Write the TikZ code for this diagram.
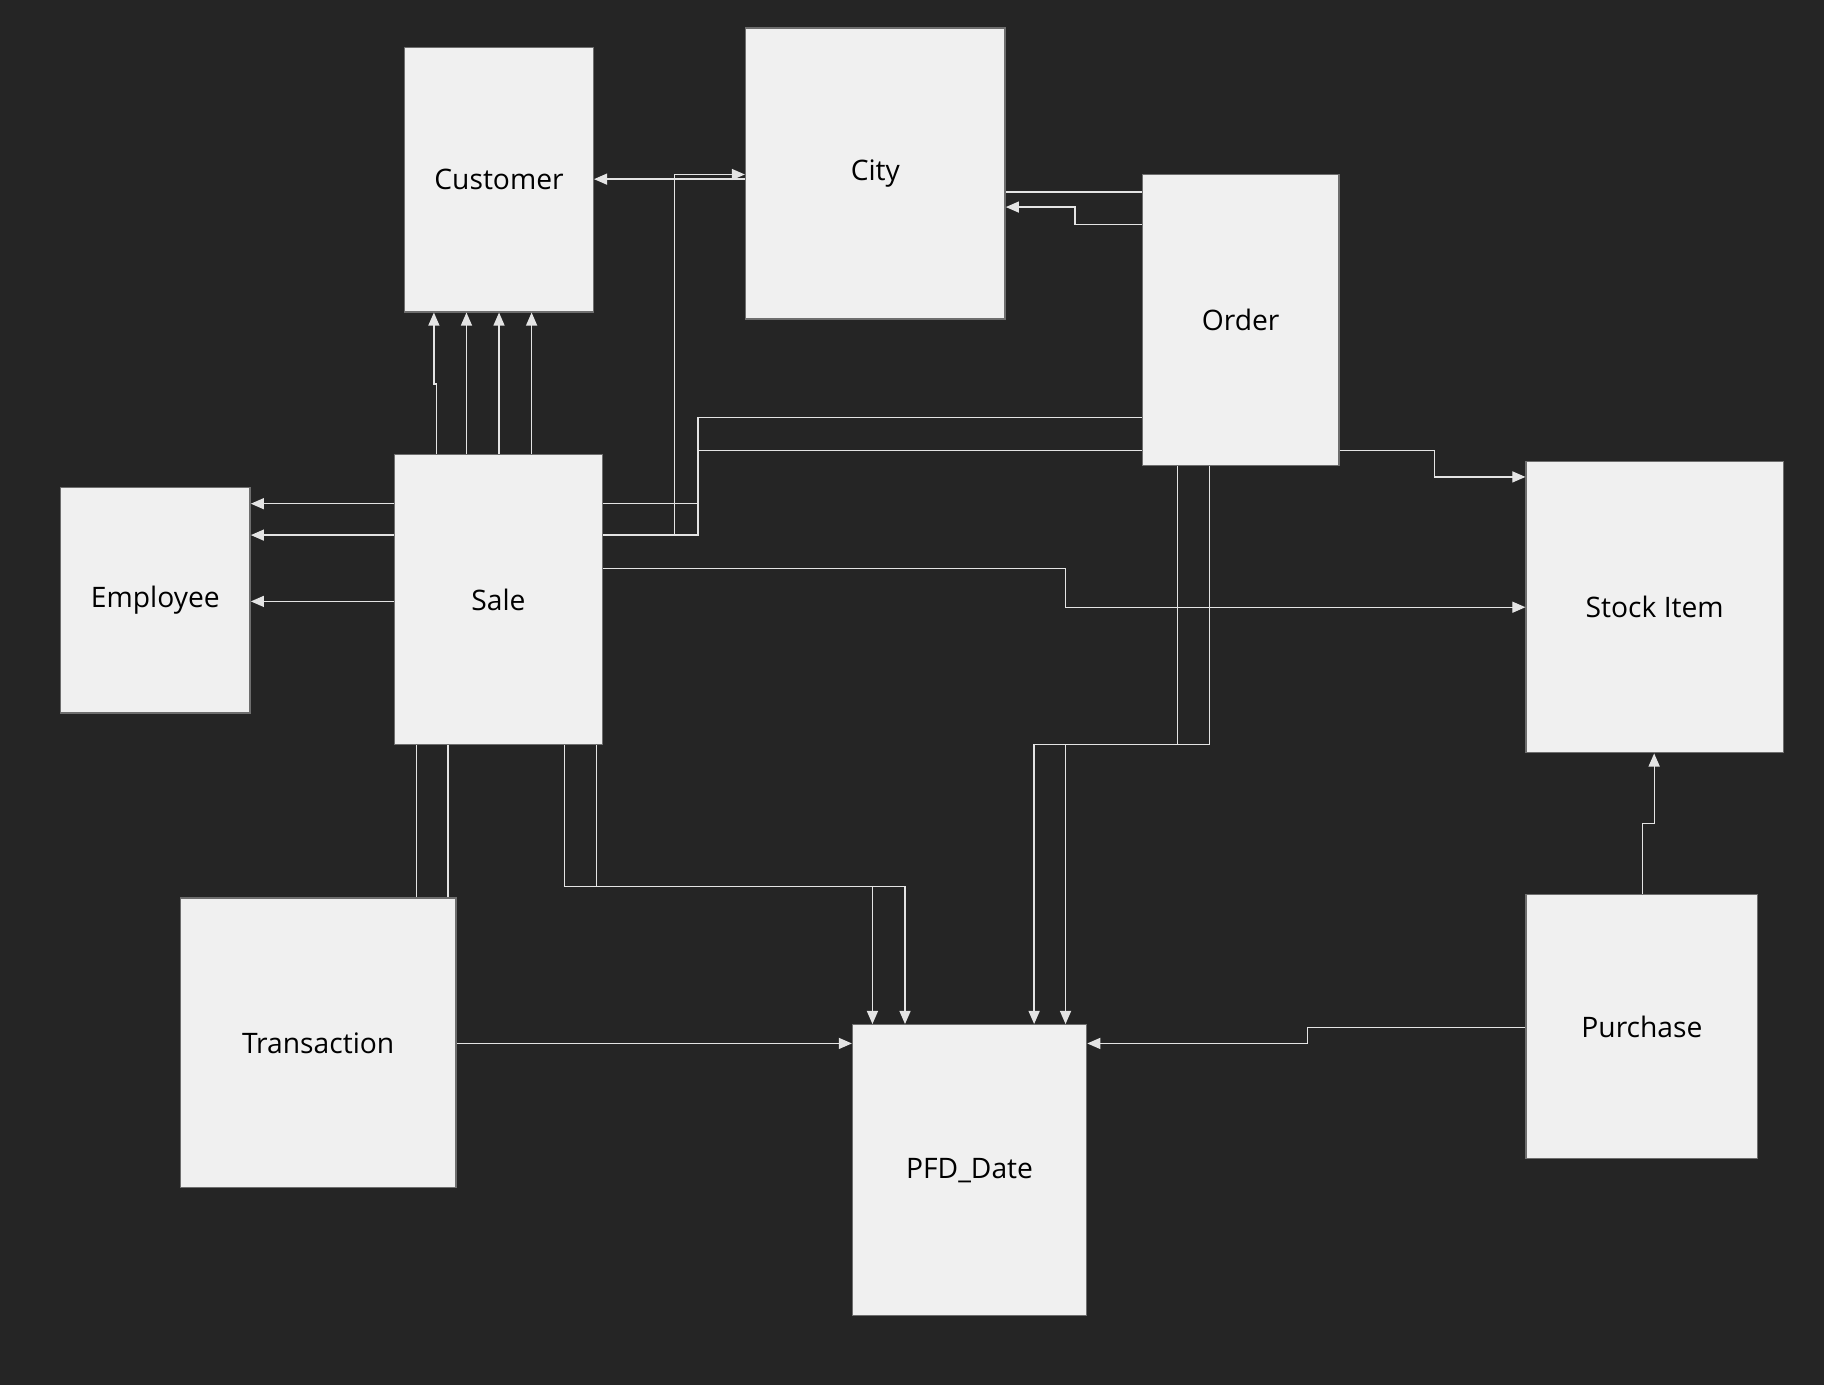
\documentclass[tikz,border=0pt]{standalone}
\usepackage{fontspec}
\setmainfont{Open Sans}
\usepackage{tikz}
\usetikzlibrary{calc}
\usetikzlibrary{arrows.meta}
\definecolor{bg}{HTML}{252525}
\definecolor{boxfill}{HTML}{F0F0F0}
\definecolor{boxline}{HTML}{6E6E6E}
\definecolor{wire}{HTML}{E4E4E4}
\tikzstyle{entity} = [rectangle, draw=boxline, fill=boxfill, line width=0.35pt, inner sep=0pt, font=\fontsize{6.9}{8}\selectfont]
\tikzstyle{link} = [draw=wire, line width=0.32pt]
\tikzstyle{arr} = [link, -{Triangle[length=3.2pt,width=2.7pt]}]

\begin{document}
\begin{tikzpicture}[x=0.01cm, y=-0.01cm]

	\fill[bg] (0,0) rectangle (1568,1191);
	\useasboundingbox (0,0) rectangle (1568,1191);

	\node[entity, minimum width=1.62cm, minimum height=2.27cm] (customer) at (429,154.5) {Customer};
	\node[entity, minimum width=2.23cm, minimum height=2.50cm] (city) at (752.5,149) {City};
	\node[entity, minimum width=1.69cm, minimum height=2.50cm] (order) at (1066.5,275) {Order};
	\node[entity, minimum width=1.63cm, minimum height=1.94cm] (employee) at (133.5,516) {Employee};
	\node[entity, minimum width=1.79cm, minimum height=2.49cm] (sale) at (428.5,515.5) {Sale};
	\node[entity, minimum width=2.21cm, minimum height=2.50cm] (stock) at (1422.5,522) {Stock Item};
	\node[entity, minimum width=2.37cm, minimum height=2.49cm] (transaction) at (273.5,896.5) {Transaction};
	\node[entity, minimum width=2.01cm, minimum height=2.50cm] (pfd) at (833.5,1006) {PFD\_Date};
	\node[entity, minimum width=1.99cm, minimum height=2.27cm] (purchase) at (1411.5,882.5) {Purchase};

	% sale -> customer
	\draw[arr] (sale.north -| 375,0) -- (375,330) -| (customer.south -| 373,0);
	\foreach \x in {401,429,457}
		\draw[arr] (sale.north -| \x,0) -- (customer.south -| \x,0);

	% sale -> employee
	\foreach \y in {433,460,517}
		\draw[arr] (sale.west |- 0,\y) -- (employee.east |- 0,\y);

	\draw[arr] (sale.east |- 0,460) -| (580,150) -- (city.west |- 0,150);
	\draw[arr] (city.west |- 0,154) -- (customer.east |- 0,154);

	\draw[link] (order.west |- 0,359) -| (600,433) -- (sale.east |- 0,433);
	\draw[link] (order.west |- 0,387) -| (600,460) -- (sale.east |- 0,460);

	\draw[link] (order.west |- 0,165) -- (city.east |- 0,165);
	\draw[arr] (order.west |- 0,193) -| (924,178) -- (city.east |- 0,178);

	\draw[arr] (order.east |- 0,387) -| (1233,410) -- (stock.west |- 0,410);
	\draw[arr] (sale.east |- 0,489) -| (916,522) -- (stock.west |- 0,522);

	% into PFD_Date
	\draw[arr] (order.south -| 1012,0) |- (889,640) -- (pfd.north -| 889,0);
	\draw[arr] (order.south -| 1040,0) |- (916,640) -- (pfd.north -| 916,0);
	\draw[arr] (sale.south -| 485,0) |- (750,762) -- (pfd.north -| 750,0);
	\draw[arr] (sale.south -| 513,0) |- (778,762) -- (pfd.north -| 778,0);

	\foreach \x in {358,385}
		\draw[link] (sale.south -| \x,0) -- (transaction.north -| \x,0);

	\draw[arr] (transaction.east |- 0,897) -- (pfd.west |- 0,897);
	\draw[arr] (purchase.west |- 0,883) -| (1124,897) -- (pfd.east |- 0,897);
	\draw[arr] (purchase.north -| 1412,0) |- (1422,708) -- (stock.south -| 1422,0);

\end{tikzpicture}
\end{document}
